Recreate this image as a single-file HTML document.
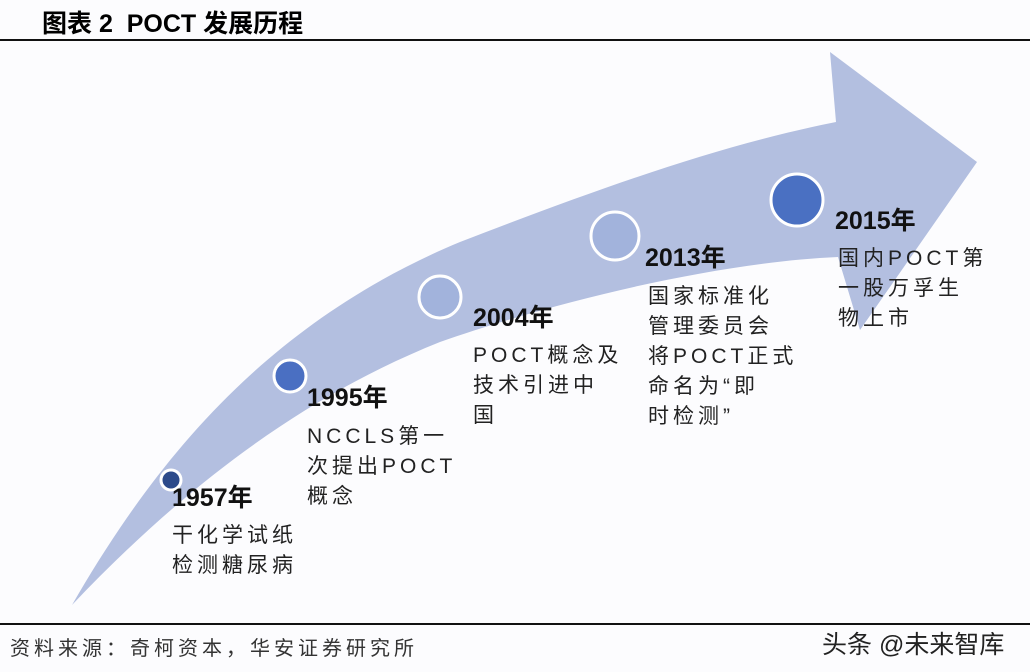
<!DOCTYPE html>
<html><head><meta charset="utf-8"><style>
body{margin:0;width:1030px;height:672px;background:#fcfcfe;position:relative;overflow:hidden;font-family:"Liberation Sans","Noto Sans CJK SC",sans-serif;}
.a{position:absolute;white-space:nowrap;}
.y{font-weight:bold;font-size:25px;color:#111;}
.d{font-size:21px;line-height:30px;color:#222;letter-spacing:4px;}
</style></head><body>
<div class="a" style="left:42px;top:4px;font-size:25px;font-weight:bold;">图表 2 &nbsp;POCT 发展历程</div>
<div class="a" style="left:0;top:39px;width:1030px;height:2px;background:#111"></div>
<svg class="a" style="left:0;top:0" width="1030" height="672">
<path d="M72,605 C150,470 260,325 460,242 C600,188 720,145 836,122 L830,52 L977,162 L860,330 L838,257 C720,262 560,300 440,342 C320,390 200,470 72,605 Z" fill="#b3bfe0"/>
<g stroke="#fff" stroke-width="3">
<circle cx="171" cy="480" r="10" fill="#2c4a8a"/>
<circle cx="290" cy="376" r="16" fill="#4a6fc2"/>
<circle cx="440" cy="297" r="21" fill="#a2b3dc"/>
<circle cx="615" cy="236" r="24" fill="#a2b3dc"/>
<circle cx="797" cy="200" r="26" fill="#4a70c2"/>
</g>
</svg>
<div class="a y" style="left:172px;top:478px">1957年</div>
<div class="a d" style="left:172px;top:521px">干化学试纸<br>检测糖尿病</div>
<div class="a y" style="left:307px;top:378px">1995年</div>
<div class="a d" style="left:307px;top:422px">NCCLS第一<br>次提出POCT<br>概念</div>
<div class="a y" style="left:473px;top:298px">2004年</div>
<div class="a d" style="left:473px;top:341px">POCT概念及<br>技术引进中<br>国</div>
<div class="a y" style="left:645px;top:238px">2013年</div>
<div class="a d" style="left:648px;top:282px">国家标准化<br>管理委员会<br>将POCT正式<br>命名为“即<br>时检测”</div>
<div class="a y" style="left:835px;top:201px">2015年</div>
<div class="a d" style="left:838px;top:244px">国内POCT第<br>一股万孚生<br>物上市</div>
<div class="a" style="left:0;top:623px;width:1030px;height:2px;background:#111"></div>
<div class="a" style="left:10px;top:632px;font-size:20px;color:#333;letter-spacing:4px">资料来源：奇柯资本，华安证券研究所</div>
<div class="a" style="left:822px;top:625px;font-size:25px;color:#222">头条 @未来智库</div>
</body></html>
